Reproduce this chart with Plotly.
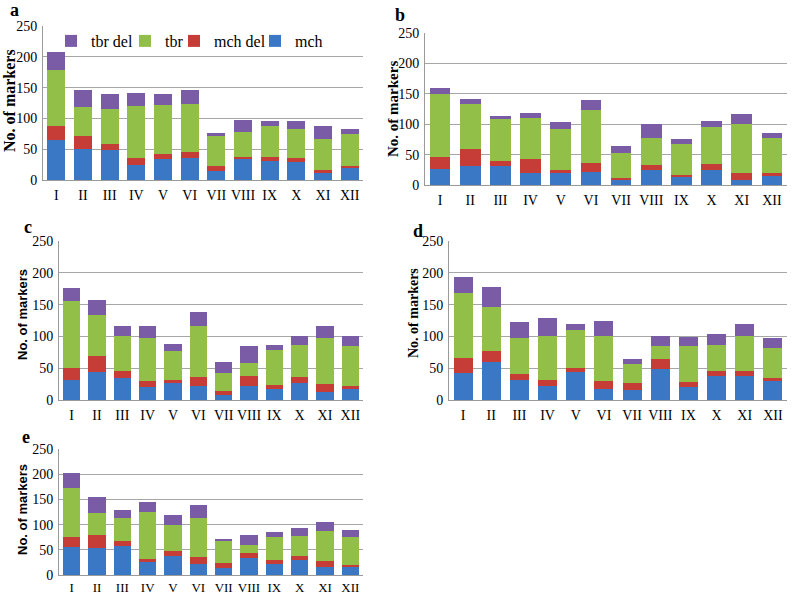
import plotly.graph_objects as go

categories = ["I", "II", "III", "IV", "V", "VI", "VII", "VIII", "IX", "X", "XI", "XII"]
series_names = ["mch", "mch del", "tbr", "tbr del"]
y_ticks = [0, 50, 100, 150, 200, 250]

# panel a
a_mch = [65, 50, 49, 25, 34, 36, 15, 35, 31, 30, 11, 19]
a_mch_del = [23, 21, 10, 10, 8, 10, 7, 3, 7, 5, 6, 4]
a_tbr = [91, 48, 56, 85, 80, 77, 49, 40, 49, 47, 50, 51]
a_tbr_del = [28, 27, 25, 21, 18, 23, 6, 19, 9, 13, 20, 8]
# panel b
b_mch = [26, 32, 32, 20, 20, 22, 8, 25, 14, 25, 8, 14]
b_mch_del = [20, 27, 7, 23, 5, 15, 4, 8, 3, 10, 11, 5]
b_tbr = [103, 75, 69, 67, 67, 87, 41, 45, 51, 60, 82, 59]
b_tbr_del = [11, 8, 6, 8, 11, 15, 11, 22, 7, 10, 15, 8]
# panel c
c_mch = [31, 44, 34, 20, 27, 22, 8, 22, 17, 26, 13, 18]
c_mch_del = [20, 25, 12, 10, 4, 14, 6, 16, 7, 10, 12, 4]
c_tbr = [104, 64, 54, 67, 46, 80, 29, 20, 54, 50, 73, 63]
c_tbr_del = [21, 25, 16, 19, 11, 22, 16, 27, 8, 14, 19, 15]
# panel d
d_mch = [43, 60, 31, 22, 44, 17, 15, 49, 20, 38, 37, 30]
d_mch_del = [23, 17, 10, 9, 7, 13, 11, 15, 9, 7, 8, 5]
d_tbr = [102, 69, 56, 70, 59, 71, 30, 21, 56, 42, 55, 47]
d_tbr_del = [25, 32, 25, 28, 10, 24, 8, 16, 14, 16, 19, 15]
# panel e
e_mch = [55, 53, 57, 25, 37, 22, 13, 34, 22, 30, 16, 16]
e_mch_del = [21, 26, 10, 7, 11, 14, 11, 9, 8, 8, 11, 4]
e_tbr = [97, 44, 47, 93, 51, 78, 44, 17, 45, 40, 60, 56]
e_tbr_del = [30, 31, 15, 19, 20, 24, 2, 19, 10, 16, 18, 14]

panels = [
    ("a", [a_mch, a_mch_del, a_tbr, a_tbr_del]),
    ("b", [b_mch, b_mch_del, b_tbr, b_tbr_del]),
    ("c", [c_mch, c_mch_del, c_tbr, c_tbr_del]),
    ("d", [d_mch, d_mch_del, d_tbr, d_tbr_del]),
    ("e", [e_mch, e_mch_del, e_tbr, e_tbr_del]),
]
colors = ["#3a78c6", "#c63c36", "#92bf48", "#7a5ba5"]

W, H = 798, 597


def px_x(x):
    return x / W


def px_y(y):
    return 1 - y / H


# plot-area pixel boxes: (x0, x1, ytop, ybottom)
boxes = [
    (43, 363, 26, 180),
    (425, 787, 33, 185),
    (59, 363, 241, 400),
    (449, 787, 241, 400),
    (59, 363, 449, 575),
]
serif = "Liberation Serif, Times New Roman, serif"
sans = "Liberation Sans, Arial, sans-serif"

# one legend per series so each entry can sit where the reference puts it
legend_keys = {"mch": "legend4", "mch del": "legend3", "tbr": "legend2", "tbr del": "legend"}
legend_x = {"tbr del": 51, "tbr": 125, "mch del": 174, "mch": 255}

fig = go.Figure()
layout = dict(
    width=W, height=H, margin=dict(l=0, r=0, t=0, b=0, pad=0), autosize=False,
    paper_bgcolor="white", plot_bgcolor="white",
    barmode="stack", bargap=0.32,
    showlegend=True,
)
for name, key in legend_keys.items():
    layout[key] = dict(orientation="h", x=px_x(legend_x[name]), y=px_y(41), xanchor="left",
                       yanchor="middle", font=dict(family=serif, size=16, color="black"),
                       bgcolor="rgba(0,0,0,0)", itemwidth=30, borderwidth=0)

annotations = []
for i, (label, vals) in enumerate(panels):
    n = i + 1
    xa = "x" if n == 1 else f"x{n}"
    ya = "y" if n == 1 else f"y{n}"
    for s, name in enumerate(series_names):
        fig.add_trace(go.Bar(
            x=categories, y=vals[s], name=name, xaxis=xa, yaxis=ya,
            marker=dict(color=colors[s], line=dict(width=0)),
            showlegend=(n == 1), legend=legend_keys[name],
        ))
    x0, x1, yt, yb = boxes[i]
    layout[f"xaxis{'' if n == 1 else n}"] = dict(
        domain=[px_x(x0), px_x(x1)], anchor=ya, showgrid=False, showline=True,
        linecolor="#9a9a9a", linewidth=1, ticks="", automargin=False,
        ticklabelstandoff=0 if label == "e" else 2,
        tickfont=dict(family=serif, size=13 if label == "e" else 14, color="black"),
        fixedrange=True,
    )
    layout[f"yaxis{'' if n == 1 else n}"] = dict(
        domain=[px_y(yb), px_y(yt)], anchor=xa, range=[0, 250], tickvals=y_ticks,
        showgrid=True, gridcolor="#a6a6a6", gridwidth=1, showline=True,
        linecolor="#9a9a9a", linewidth=1, ticks="", zeroline=False, automargin=False,
        ticklabelstandoff=2,
        tickfont=dict(family=serif, size=14, color="black"), fixedrange=True,
    )
    # y axis title
    title_x = {0: 9, 1: 393, 2: 22, 3: 413, 4: 22}[i]
    title_size = {0: 16, 1: 15, 2: 13, 3: 14, 4: 13}[i]
    tfont = dict(family=sans if label in ("c", "e") else serif, size=title_size, color="black")
    annotations.append(dict(
        text="<b>No. of markers</b>", xref="paper", yref="paper",
        x=px_x(title_x), y=px_y({0: 101, 1: 109, 2: 315, 3: 313, 4: 510}[i]), textangle=-90,
        showarrow=False, font=tfont, xanchor="center", yanchor="middle",
    ))
    # panel letter
    lx, ly = {0: (14, 10), 1: (400, 15), 2: (28, 227), 3: (418, 231), 4: (26, 437)}[i]
    annotations.append(dict(
        text=f"<b>{label}</b>", xref="paper", yref="paper", x=px_x(lx), y=px_y(ly),
        showarrow=False, font=dict(family=serif, size=18, color="black"),
        xanchor="center", yanchor="middle",
    ))
layout["annotations"] = annotations
fig.update_layout(**layout)
fig.write_html("out.html", config={"displayModeBar": False},
               post_script="document.body.style.margin='0px';")
